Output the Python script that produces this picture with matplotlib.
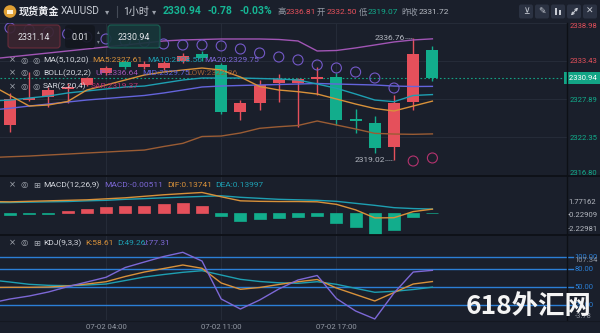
import numpy as np
import matplotlib.pyplot as plt
import matplotlib.transforms as mtransforms
from matplotlib.patches import FancyBboxPatch, Circle, Rectangle

plt.rcParams['font.family'] = ['Roboto', 'Noto Sans CJK SC', 'DejaVu Sans']

# hourly XAUUSD bars, 07-01 23:00 .. 07-02 22:00
opens = [2324.15, 2327.77, 2328.16, 2329.33, 2329.95, 2331.69, 2333.29, 2332.60,
         2332.42, 2333.43, 2334.45, 2332.85, 2326.08, 2327.30, 2330.28, 2330.28,
         2330.78, 2331.15, 2324.80, 2324.50, 2321.00, 2327.53, 2335.00]
highs = [2328.79, 2331.88, 2329.70, 2330.20, 2331.15, 2332.70, 2333.60, 2333.40,
         2333.50, 2334.60, 2334.90, 2333.20, 2327.80, 2330.70, 2331.60, 2331.00,
         2332.60, 2331.65, 2326.40, 2325.45, 2328.50, 2336.76, 2335.60]
lows = [2323.18, 2327.60, 2326.80, 2327.30, 2329.80, 2331.40, 2332.30, 2332.30,
        2332.10, 2333.10, 2333.50, 2325.74, 2324.90, 2326.30, 2327.50, 2323.90,
        2328.50, 2324.15, 2322.95, 2320.05, 2319.02, 2326.30, 2330.50]
closes = [2327.88, 2328.11, 2329.22, 2329.70, 2330.92, 2332.42, 2332.56, 2333.00,
          2333.14, 2334.16, 2333.80, 2326.08, 2327.30, 2329.95, 2330.80, 2330.78,
          2331.15, 2324.88, 2324.75, 2320.77, 2327.38, 2334.45, 2330.94]
sar = [2338.22, 2337.93, 2337.64, 2337.35, 2336.91, 2336.62, 2336.33, 2336.19,
       2335.90, 2335.75, 2335.75, 2335.61, 2335.17, 2334.59, 2334.01, 2333.58,
       2332.85, 2332.42, 2331.83, 2330.96, 2329.51, 2318.93, 2319.37]

# indicator lines carry one extra bar on the left (index -1)
ma5 = [2329.95, 2328.43, 2326.90, 2327.05, 2327.56, 2329.22, 2329.95, 2330.67,
       2331.40, 2331.83, 2332.12, 2332.41, 2332.12, 2331.11, 2329.73, 2329.22,
       2328.98, 2328.64, 2327.92, 2327.19, 2326.54, 2326.18, 2326.90, 2327.61]
ma10 = [2327.63, 2327.77, 2328.06, 2328.35, 2328.79, 2329.08, 2329.37, 2329.66,
        2329.80, 2330.24, 2330.67, 2330.96, 2330.96, 2330.96, 2330.89, 2330.82,
        2330.67, 2330.09, 2329.47, 2328.64, 2327.77, 2327.53, 2328.43, 2328.56]
boll_mid = [2326.32, 2326.57, 2326.90, 2327.19, 2327.48, 2327.77, 2327.99, 2328.21,
            2328.43, 2328.79, 2329.22, 2329.66, 2329.80, 2329.88, 2329.95, 2330.02,
            2330.09, 2330.17, 2330.09, 2330.02, 2329.95, 2329.80, 2329.73, 2329.75]
boll_up = [2333.72, 2334.01, 2334.30, 2334.59, 2334.88, 2335.17, 2335.46, 2335.75,
           2336.04, 2336.33, 2336.48, 2336.55, 2336.62, 2336.62, 2336.62, 2336.55,
           2336.33, 2334.88, 2334.95, 2335.32, 2335.75, 2336.19, 2336.48, 2336.64]
boll_low = [2319.43, 2319.55, 2319.65, 2319.80, 2319.94, 2320.09, 2320.23, 2320.38,
            2320.52, 2321.03, 2321.49, 2322.48, 2322.55, 2322.99, 2323.67, 2323.90,
            2324.08, 2324.73, 2324.15, 2323.57, 2322.94, 2322.84, 2322.80, 2322.86]

macd_hist = [-0.08, -0.06, -0.04, 0.05, 0.13, 0.24, 0.27, 0.27, 0.33, 0.40, 0.28,
             -0.12, -0.32, -0.27, -0.23, -0.16, -0.12, -0.43, -0.59, -0.91, -0.69,
             -0.16, -0.00511]
dif = [0.436, 0.428, 0.448, 0.468, 0.488, 0.508, 0.548, 0.588, 0.648, 0.708, 0.756,
       0.80, 0.63, 0.468, 0.448, 0.44, 0.44, 0.428, 0.328, 0.108, -0.212, -0.204,
       0.04, 0.13741]
dea = [0.396, 0.40, 0.416, 0.428, 0.44, 0.468, 0.488, 0.528, 0.556, 0.588, 0.616,
       0.644, 0.668, 0.608, 0.568, 0.528, 0.508, 0.488, 0.448, 0.368, 0.288, 0.196,
       0.16, 0.13997]

k_line = [48.7, 49, 49, 49.5, 51.2, 54.5, 58.3, 67, 74.5, 80.3, 86.2, 80.7, 56.2,
          45.7, 48.7, 53.7, 58.3, 62, 47.8, 37, 26.2, 40.3, 54.5, 58.61]
d_line = [61.2, 57.8, 54, 52.3, 51.7, 52.8, 54.5, 60.3, 66.2, 70.3, 74, 76.7, 69.5,
          62.3, 58.7, 56.5, 55.7, 58.3, 54, 47.3, 40.7, 42.3, 45.3, 49.26]
j_line = [22.8, 29.5, 34.5, 41.2, 50, 57.8, 65.7, 82, 91.2, 100.3, 107.34, 92.8, 29.5,
          12.8, 27.8, 46.2, 61.2, 68.7, 30.3, 9.5, -3.78, 39.5, 74.5, 77.31]

time_ticks = [5, 11, 17]
time_labels = ['07-02 04:00', '07-02 11:00', '07-02 17:00']
price_ticks = [2316.80, 2322.35, 2327.89, 2333.43, 2338.98]
macd_axis_labels = ['1.77162', '-0.22909', '-2.22981']
kdj_levels = [20, 50, 80, 100]

BG = '#1a1f2b'
GRID = '#252b38'
SEP = '#0d1016'
RED = '#e5505b'
GREEN = '#12ad8c'
ORANGE = '#d8913a'
TEAL = '#1e9fb2'
PURPLE = '#7d68d6'
BLUE_MID = '#6464dc'
MAGENTA = '#a155b5'
BROWN = '#9a5c34'
SAR_UP = '#7459c8'
SAR_DN = '#b5336f'
TXT = '#d4d7de'
GRAY = '#9399a4'
LEVEL = '#2b7fd6'
AXIS_FS = 5.5

W, H = 600, 333
fig = plt.figure(figsize=(W / 100, H / 100), dpi=100, facecolor=BG)


def add_panel(top, bottom):
    a = fig.add_axes([0, 1 - bottom / H, 567 / W, (bottom - top) / H])
    a.set_facecolor(BG)
    for s in a.spines.values():
        s.set_visible(False)
    a.set_xlim(-0.521, 29.01)
    a.set_xticks(time_ticks)
    a.tick_params(axis='x', length=0, labelbottom=False)
    a.grid(axis='x', color=GRID, lw=0.8)
    a.set_axisbelow(True)
    return a


ax = add_panel(22.7, 175.7)
ax_macd = add_panel(175.7, 235.3)
ax_kdj = add_panel(235.3, 320)

xi = np.arange(len(opens))
xl = np.arange(-1, len(opens))
o, h, l, c = map(np.array, (opens, highs, lows, closes))
col = np.where(c >= o, RED, GREEN)

# price panel
ax.vlines(xi, l, h, colors=col, lw=1, zorder=3)
ax.bar(xi, np.maximum(np.abs(c - o), 0.22), bottom=np.minimum(o, c), width=0.62,
       color=col, lw=0, zorder=3)
ax.plot(xl, boll_up, color=MAGENTA, lw=1, zorder=4)
ax.plot(xl, boll_low, color=BROWN, lw=1, zorder=4)
ax.plot(xl, boll_mid, color=BLUE_MID, lw=1, zorder=4)
ax.plot(xl, ma10, color=TEAL, lw=1, zorder=4)
ax.plot(xl, ma5, color=ORANGE, lw=1, zorder=4)
s_arr = np.array(sar)
ax.scatter(xi, s_arr, s=52, facecolors='none', lw=0.8, zorder=5,
           edgecolors=np.where(s_arr > h, SAR_UP, SAR_DN))
ax.axhline(c[-1], color='#14a083', lw=0.8, ls=(0, (1.5, 2)), zorder=2)

hi_i, lo_i = int(np.argmax(h)), int(np.argmin(l))
ax.plot([hi_i - 0.42, hi_i - 0.05], [h[hi_i]] * 2, color=GRAY, lw=0.7, ls=(0, (1, 1)))
ax.text(hi_i - 0.45, h[hi_i], f'{h[hi_i]:.2f}', ha='right', va='center',
        color='#b5b9c2', fontsize=6)
ax.plot([lo_i - 0.45, lo_i - 0.05], [l[lo_i]] * 2, color=GRAY, lw=0.7, ls=(0, (1, 1)))
ax.text(lo_i - 0.48, l[lo_i], f'{l[lo_i]:.2f}', ha='right', va='center',
        color='#b5b9c2', fontsize=6)

ax.set_ylim(price_ticks[0], price_ticks[-1])
ax.yaxis.tick_right()
ax.set_yticks(price_ticks)
ax.set_yticklabels([f'{p:.2f}' for p in price_ticks])
ax.tick_params(axis='y', length=0, pad=2.2, labelsize=AXIS_FS)
ax.grid(axis='y', color=GRID, lw=0.8)
labs = ax.get_yticklabels()
for p, t in zip(price_ticks, labs):
    t.set_color(RED if p > c[-1] else GREEN)
labs[0].set_va('bottom')
labs[-1].set_va('top')
blend = mtransforms.blended_transform_factory(ax.transAxes, ax.transData)
ax.text(1.0, c[-1], f' {c[-1]:.2f} ', transform=blend, ha='left', va='center',
        fontsize=AXIS_FS, color='white', clip_on=False, zorder=6,
        bbox=dict(boxstyle='square,pad=0.35', fc='#13a586', ec='none'))

# MACD panel
hist = np.array(macd_hist)
hcol = np.where(hist >= 0, RED, GREEN)
ax_macd.bar(xi, hist, width=0.62, color=hcol, edgecolor=hcol, lw=0.5)
ax_macd.plot(xl, dea, color=TEAL, lw=1)
ax_macd.plot(xl, dif, color=ORANGE, lw=1)
ax_macd.set_ylim(-0.904, 1.468)
ax_macd.set_yticks([])
for lab, fy in zip(macd_axis_labels, [0.56, 0.34, 0.105]):
    ax_macd.text(1.002, fy, lab, transform=ax_macd.transAxes, ha='left', va='center',
                 fontsize=AXIS_FS, color='#b4b8c0', clip_on=False)

# KDJ panel
for v in kdj_levels:
    ax_kdj.axhline(v, xmax=573 / 567, color=LEVEL, lw=1, clip_on=False, zorder=1)
ax_kdj.plot(xl, d_line, color=TEAL, lw=1, zorder=3)
ax_kdj.plot(xl, k_line, color=ORANGE, lw=1, zorder=3)
ax_kdj.plot(xl, j_line, color=PURPLE, lw=1, zorder=3)
ax_kdj.set_ylim(-5.5, 135.7)
ax_kdj.yaxis.tick_right()
ax_kdj.set_yticks(kdj_levels)
ax_kdj.set_yticklabels([f'{v:.2f}' for v in kdj_levels])
ax_kdj.tick_params(axis='y', length=0, pad=5.5, labelsize=AXIS_FS, labelcolor=LEVEL)
ax_kdj.text(1.013, 0.705, f'{max(j_line):.2f}', transform=ax_kdj.transAxes,
            fontsize=AXIS_FS, color='#8d929c', va='center', clip_on=False)
ax_kdj.text(1.013, 0.05, f'{min(j_line):.2f}', transform=ax_kdj.transAxes,
            fontsize=AXIS_FS, color='#8d929c', va='center', clip_on=False)
ax_kdj.set_xticklabels(time_labels)
ax_kdj.tick_params(axis='x', labelbottom=True, labelsize=5.6, labelcolor=GRAY, pad=3)

# overlay in pixel coordinates for header, legends and separators
ui = fig.add_axes([0, 0, 1, 1], zorder=10)
ui.set_xlim(0, W)
ui.set_ylim(H, 0)
ui.axis('off')
ui.patch.set_alpha(0)

for yy in (175.7, 235.3):
    ui.plot([0, W], [yy, yy], color=SEP, lw=1.3)
ui.plot([567.3, 567.3], [22.7, 320], color=SEP, lw=1)
ui.plot([0, W], [320.5, 320.5], color='#141821', lw=0.8)

# header
ui.add_patch(Circle((10, 11.5), 6.3, fc='#e0a034', ec='none'))
ui.add_patch(Rectangle((7, 10), 6, 4, fc='#fff2d6', ec='none'))
ui.text(19, 11.5, '现货黄金', color='#eceef2', fontsize=7.3, va='center', weight='bold')
ui.text(61, 11.5, 'XAUUSD', color='#c9cdd5', fontsize=7.3, va='center')
ui.text(105, 11.5, '▾', color='#9aa0aa', fontsize=6, va='center', family='DejaVu Sans')
ui.plot([117, 117], [6, 17], color='#454b57', lw=0.8)
ui.text(123, 11.5, '1小时', color='#c9cdd5', fontsize=7.3, va='center')
ui.text(152, 11.5, '▾', color='#9aa0aa', fontsize=6, va='center', family='DejaVu Sans')
ui.text(163, 11.5, '2330.94', color='#16b594', fontsize=7.5, va='center', weight='bold')
ui.text(208, 11.5, '-0.78', color='#16b594', fontsize=7.5, va='center', weight='bold')
ui.text(240, 11.5, '-0.03%', color='#16b594', fontsize=7.5, va='center', weight='bold')
for x0, s, cc in [(277, '高', GRAY), (286, '2336.81', RED), (317, '开', GRAY),
                  (327, '2332.50', RED), (359, '低', GRAY), (368, '2319.07', GREEN),
                  (401, '昨收', GRAY), (419, '2331.72', '#b9bdc5')]:
    ui.text(x0, 11.5, s, color=cc, fontsize=6, va='center')

ICON = '#c8ccd4'
for x0, g in zip([519, 535, 551, 567, 583], ['⊻', '✎', '', '', '✕']):
    ui.add_patch(FancyBboxPatch((x0, 4.5), 14, 14, boxstyle='round,pad=0,rounding_size=2',
                                fc='#2b3242', ec='none'))
    if g:
        ui.text(x0 + 7, 11.5, g, color=ICON, fontsize=6.5, ha='center', va='center',
                family='DejaVu Sans')
# candle icon
for dx, y0, hh in [(4.5, 8, 7), (9, 9.5, 5)]:
    ui.add_patch(Rectangle((551 + dx - 1, y0), 2.2, hh, fc=ICON, ec='none'))
# expand icon
ui.annotate('', xy=(578, 7.5), xytext=(571, 15.5),
            arrowprops=dict(arrowstyle='<->', color=ICON, lw=0.8, mutation_scale=4,
                            shrinkA=0, shrinkB=0))

# order boxes
ui.add_patch(FancyBboxPatch((8, 25), 52, 23, boxstyle='round,pad=0,rounding_size=3',
                            fc='#3a2530', ec='#6e2d3c', lw=0.8, alpha=0.92))
ui.text(34, 37, '2331.14', color='#e4e6ea', fontsize=6.4, ha='center', va='center')
ui.add_patch(FancyBboxPatch((65, 25), 30, 23, boxstyle='round,pad=0,rounding_size=3',
                            fc='#13171f', ec='none', alpha=0.92))
ui.text(80, 37, '0.01', color='#e4e6ea', fontsize=6.4, ha='center', va='center')
ui.text(98, 31.5, '▴', color='#80868f', fontsize=4, ha='center', va='center',
        family='DejaVu Sans')
ui.text(98, 42, '▾', color='#80868f', fontsize=4, ha='center', va='center',
        family='DejaVu Sans')
ui.add_patch(FancyBboxPatch((108, 25), 52, 23, boxstyle='round,pad=0,rounding_size=3',
                            fc='#17363a', ec='#1a6656', lw=0.8, alpha=0.92))
ui.text(134, 37, '2330.94', color='#e4e6ea', fontsize=6.4, ha='center', va='center')


def legend_row(y, icons, items):
    for x0, g in zip([12.5, 24, 36.5], icons):
        ui.text(x0, y, g, color='#a4a9b2', fontsize=6, ha='center', va='center',
                family='DejaVu Sans')
    for x0, s, cc in items:
        ui.text(x0, y, s, color=cc, fontsize=6, va='center')


legend_row(60, ['×', '◎', '◎'], [(43, 'MA(5,10,20)', TXT), (92.5, 'MA5:2327.61', ORANGE),
                                 (147, 'MA10:2328.56', TEAL), (204, 'MA20:2329.75', PURPLE)])
legend_row(73, ['×', '◎', '◎'], [(43, 'BOLL(20,2,2)', TXT), (95, 'UP:2336.64', MAGENTA),
                                 (142, 'MID:2329.75', BLUE_MID), (187, 'LOW:2322.86', BROWN)])
legend_row(86.5, ['×', '◎', '◎'], [(43, 'SAR(2,20,4)', TXT), (91, 'SAR:2319.37', SAR_DN)])
legend_row(185, ['×', '◎', '⊞'], [(43, 'MACD(12,26,9)', TXT), (104, 'MACD:-0.00511', PURPLE),
                                 (167, 'DIF:0.13741', ORANGE), (215, 'DEA:0.13997', TEAL)])
legend_row(243, ['×', '◎', '⊞'], [(43, 'KDJ(9,3,3)', TXT), (85, 'K:58.61', ORANGE),
                                 (117, 'D:49.26', TEAL), (143, 'J:77.31', PURPLE)])

ui.text(529, 307, '618外汇网', color='#f4f4f4', fontsize=19, weight='bold',
        ha='center', va='center', family=['Noto Sans CJK SC', 'DejaVu Sans'])

fig.savefig('out.png', dpi=100, facecolor=BG)
